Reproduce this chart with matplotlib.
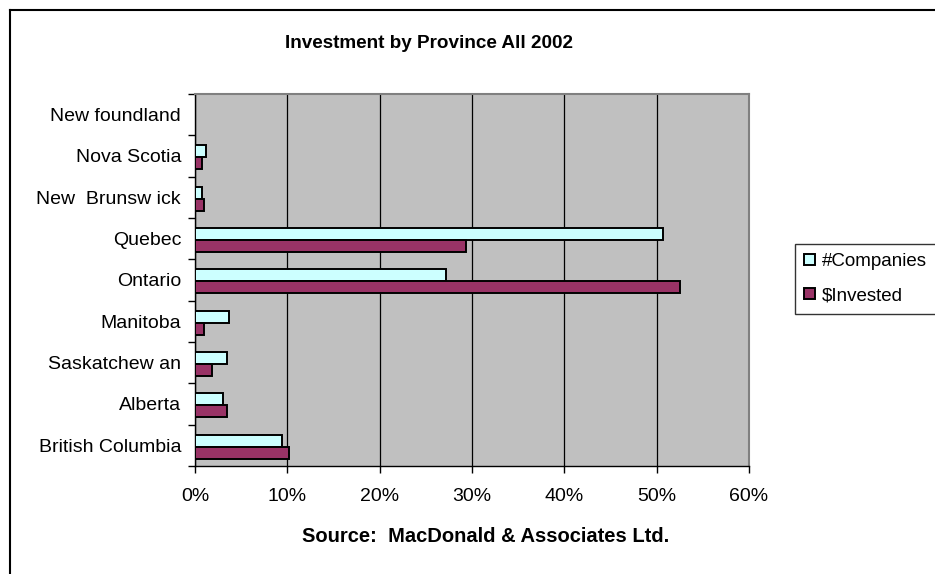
import matplotlib
matplotlib.use("Agg")
import matplotlib.pyplot as plt
from matplotlib.lines import Line2D
from matplotlib.ticker import FuncFormatter, FixedLocator

plt.rcParams['font.family'] = ['Liberation Sans', 'DejaVu Sans']

provinces = ["New foundland", "Nova Scotia", "New  Brunsw ick", "Quebec", "Ontario",
             "Manitoba", "Saskatchew an", "Alberta", "British Columbia"]
companies = [0.0, 1.2, 0.8, 50.7, 27.2, 3.7, 3.5, 3.0, 9.4]
invested = [0.0, 0.8, 1.0, 29.3, 52.5, 1.0, 1.8, 3.5, 10.2]
series_names = ["#Companies", "$Invested"]
x_ticks = [0, 10, 20, 30, 40, 50, 60]

W, H = 935, 574
fig = plt.figure(figsize=(W / 100, H / 100), dpi=100)
fig.patch.set_facecolor("white")

# frame lines around the chart area (left and top)
fig.add_artist(Line2D([9.5 / W, 9.5 / W], [0, 1 - 9.5 / H], transform=fig.transFigure,
                      color="black", lw=1.5))
fig.add_artist(Line2D([9.5 / W, 1], [1 - 9.5 / H, 1 - 9.5 / H], transform=fig.transFigure,
                      color="black", lw=1.5))

left, right, top, bottom = 195, 749, 94, 466
ax = fig.add_axes([left / W, 1 - bottom / H, (right - left) / W, (bottom - top) / H])
ax.set_facecolor("#C0C0C0")

n = len(provinces)
pos = [n - 1 - i for i in range(n)]
bh = 0.29
ax.barh([p + bh / 2 - 0.03 for p in pos], companies, height=bh, color="#CCFFFF",
        edgecolor="black", lw=1.4, label=series_names[0], zorder=3)
ax.barh([p - bh / 2 - 0.03 for p in pos], invested, height=bh, color="#993366",
        edgecolor="black", lw=1.4, label=series_names[1], zorder=3)

ax.set_xlim(0, 60)
ax.set_ylim(-0.5, n - 0.5)
ax.set_xticks(x_ticks)
ax.xaxis.set_major_formatter(FuncFormatter(lambda v, _: f"{v:.0f}%"))
ax.grid(axis="x", color="black", lw=0.9, zorder=1)
ax.set_axisbelow(True)

ax.set_yticks(pos)
ax.set_yticklabels(provinces)
ax.yaxis.set_minor_locator(FixedLocator([k - 0.5 for k in range(n + 1)]))
ax.tick_params(axis="y", which="major", length=0, pad=10, labelsize=14)
ax.tick_params(axis="y", which="minor", length=5, width=1, direction="out")
ax.tick_params(axis="x", length=5, width=1, direction="out", pad=11, labelsize=14)

for s in ("left", "bottom"):
    ax.spines[s].set_color("black")
    ax.spines[s].set_linewidth(1)
for s in ("top", "right"):
    ax.spines[s].set_color("#808080")
    ax.spines[s].set_linewidth(1.5)

fig.text(429 / W, 1 - 43 / H, "Investment by Province All 2002", ha="center", va="center",
         fontsize=13.6, fontweight="bold")
fig.text(486 / W, 1 - 537 / H, "Source:  MacDonald & Associates Ltd.", ha="center",
         va="center", fontsize=14.5, fontweight="bold")

leg = fig.legend(loc="upper left", bbox_to_anchor=(795 / W, 1 - 244 / H), frameon=True,
                 fancybox=False, edgecolor="black", fontsize=13.5, handlelength=0.55,
                 handleheight=0.55, handletextpad=0.4, labelspacing=0.9, borderpad=0.5,
                 borderaxespad=0)
leg.get_frame().set_linewidth(1)

fig.savefig("out.png", dpi=100)
